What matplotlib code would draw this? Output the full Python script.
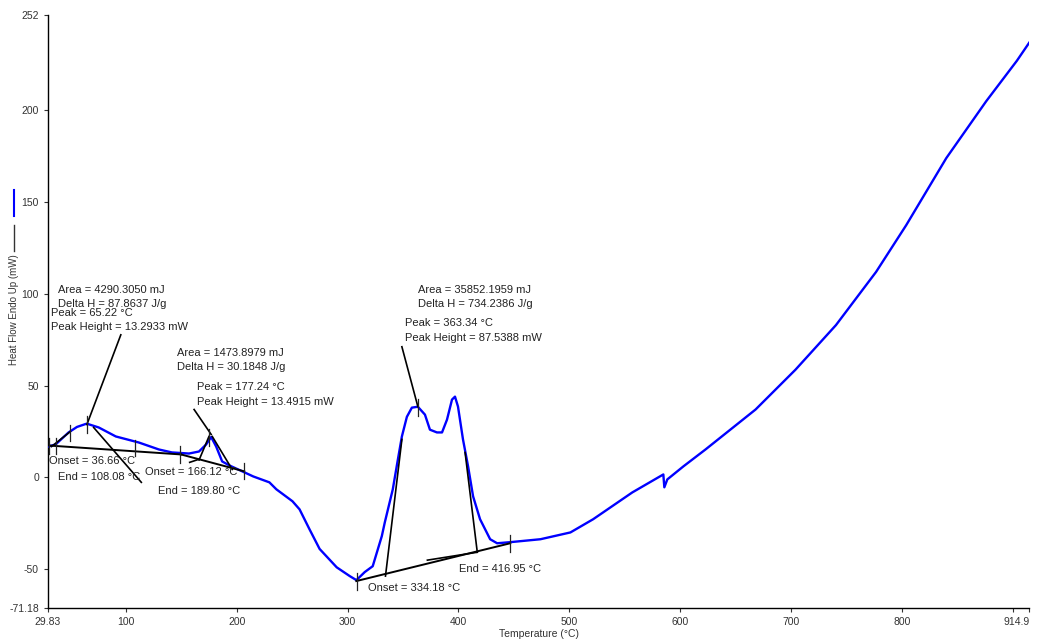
import matplotlib
matplotlib.use("Agg")
import matplotlib.pyplot as plt
from matplotlib.lines import Line2D

plt.rcParams['font.family'] = ['Liberation Sans', 'DejaVu Sans']

# DSC curve
temperature = [29.83, 36.6, 48.4, 56, 63.8, 65.2, 75.6, 91, 111.8, 129.9, 141.6, 157, 166,
               172.4, 177, 181.5, 186.9, 193.5, 205, 215, 229.5, 235.8, 250.3, 256.7, 265.7,
               274.8, 290.2, 302, 308, 315.5, 322.7, 330.9, 333.6, 340.8, 345.4, 349, 353.5,
               358, 363.4, 369.8, 374.3, 380.6, 385.2, 389.7, 394.2, 396.9, 399.6, 404.1,
               408.7, 413.2, 419.5, 428.6, 434.9, 446.7, 474, 501, 521.5, 556.8, 584.8, 585.7,
               588.4, 602.9, 622.8, 668, 704, 740.5, 776.7, 803.9, 840, 876, 903.6, 914.9]
heat_flow = [16.8, 17.9, 24.5, 27.5, 29.1, 29.2, 27.2, 22.3, 19, 15.2, 13.6, 13, 14.1,
             17.9, 22.0, 16.8, 8.7, 6.5, 3.3, 0.5, -2.7, -6.5, -13, -17.4, -28.3,
             -39, -49, -53.8, -56, -51.6, -48.4, -32, -24.5, -6.5, 9.8, 22.3, 33,
             38, 38.5, 34.2, 26, 24.5, 24.5, 31.5, 42.4, 44, 38.6, 20.7,
             6, -10.3, -22.8, -33.7, -35.9, -35.3, -33.7, -30, -22.8, -8.2, 1.6, -5.4,
             -1.1, 6, 15.2, 37, 58.7, 83, 112, 137.5, 174, 205, 227, 237]

# analysis lines (baselines, tangents, pointers)
baseline1_t = [29.83, 149.8]
baseline1_y = [17.4, 12.5]
baseline2_t = [149.8, 206.8]
baseline2_y = [12.5, 3.3]
baseline3_t = [307.9, 446.7]
baseline3_y = [-56.5, -35.9]
tangent_lines = [
    ([33.0, 50.0], [16.8, 25.0]),       # onset tangent peak 1
    ([71.0, 114.0], [27.2, -2.7]),      # trailing tangent peak 1
    ([166.1, 175.0], [9.5, 22.3]),      # onset tangent peak 2
    ([178.0, 196.0], [22.3, 4.3]),      # trailing tangent peak 2
    ([334.2, 349.0], [-53.8, 20.7]),    # onset tangent peak 3
    ([406.0, 417.0], [13.6, -40.8]),    # trailing tangent peak 3
]
pointer_lines = [
    ([95.5, 64.9], [77.7, 28.8]),
    ([161.6, 177.0], [37.0, 23.4]),
    ([349.0, 363.4], [71.2, 38.6]),
    ([157.6, 166.1], [8.2, 9.9]),
    ([372.0, 416.9], [-45.1, -40.8]),
]
mark_t = [30.7, 36.6, 49.3, 64.7, 108.1, 148.9, 175.1, 206.8, 308.2, 363.4, 446.8]
mark_y = [17.1, 17.1, 24.2, 28.8, 16.0, 12.5, 21.5, 3.5, -56.5, 38.0, -35.9]

labels = [
    (38.4, 102.2, "Area = 4290.3050 mJ"),
    (38.4, 94.6, "Delta H = 87.8637 J/g"),
    (32.1, 89.7, "Peak = 65.22 °C"),
    (32.1, 82.1, "Peak Height = 13.2933 mW"),
    (146.2, 67.9, "Area = 1473.8979 mJ"),
    (146.2, 60.3, "Delta H = 30.1848 J/g"),
    (164.3, 49.5, "Peak = 177.24 °C"),
    (164.3, 41.3, "Peak Height = 13.4915 mW"),
    (363.5, 102.2, "Area = 35852.1959 mJ"),
    (363.5, 94.6, "Delta H = 734.2386 J/g"),
    (351.7, 84.2, "Peak = 363.34 °C"),
    (351.7, 76.1, "Peak Height = 87.5388 mW"),
    (30.3, 8.7, "Onset = 36.66 °C"),
    (38.4, 0.0, "End = 108.08 °C"),
    (117.2, 2.7, "Onset = 166.12 °C"),
    (129.0, -7.6, "End = 189.80 °C"),
    (400.6, -50.0, "End = 416.95 °C"),
    (318.2, -60.3, "Onset = 334.18 °C"),
]

x_ticks = [29.83, 100, 200, 300, 400, 500, 600, 700, 800, 900, 914.9]
x_tick_labels = ["29.83", "100", "200", "300", "400", "500", "600", "700", "800", "", "914.9"]
y_ticks = [-71.18, -50, 0, 50, 100, 150, 200, 252]
y_tick_labels = ["-71.18", "-50", "0", "50", "100", "150", "200", "252"]

fig = plt.figure(figsize=(10.39, 6.4), dpi=100)
ax = fig.add_axes([0.0462, 0.05, 0.9445, 0.9266])

ax.plot(temperature, heat_flow, color="#0000ff", lw=1.7, zorder=3)

for bt, by in [(baseline1_t, baseline1_y), (baseline2_t, baseline2_y), (baseline3_t, baseline3_y)]:
    ax.plot(bt, by, color="black", lw=1.4, zorder=4)
for lt, ly in tangent_lines + pointer_lines:
    ax.plot(lt, ly, color="black", lw=1.2, zorder=4)
for t, y in zip(mark_t, mark_y):
    ax.plot([t, t], [y - 4.6, y + 4.6], color="#222222", lw=0.9, zorder=5)

for t, y, s in labels:
    ax.text(t, y, s, fontsize=8, color="#222222", ha="left", va="center", zorder=6)

ax.set_xlim(29.83, 914.9)
ax.set_ylim(-71.18, 252)
ax.set_xticks(x_ticks)
ax.set_xticklabels(x_tick_labels)
ax.set_yticks(y_ticks)
ax.set_yticklabels(y_tick_labels)
ax.tick_params(labelsize=7.5, colors="#333333", length=3, width=0.8)
ax.get_xticklabels()[-1].set_horizontalalignment("right")
ax.spines["top"].set_visible(False)
ax.spines["right"].set_visible(False)
ax.spines["left"].set_linewidth(1)
ax.spines["bottom"].set_linewidth(1)
ax.set_xlabel("Temperature (°C)", fontsize=7.5, color="#333333", labelpad=1)
ax.xaxis.set_label_coords(0.5, -0.035)

# y label with the legend strokes
fig.add_artist(Line2D([0.0135, 0.0135], [0.663, 0.703], color="#0000ff", lw=1.5))
fig.add_artist(Line2D([0.0135, 0.0135], [0.608, 0.648], color="#333333", lw=1.0))
fig.text(0.0135, 0.516, "Heat Flow Endo Up (mW)", rotation=90, fontsize=7,
         color="#333333", ha="center", va="center")

fig.savefig("out.png", dpi=100)
